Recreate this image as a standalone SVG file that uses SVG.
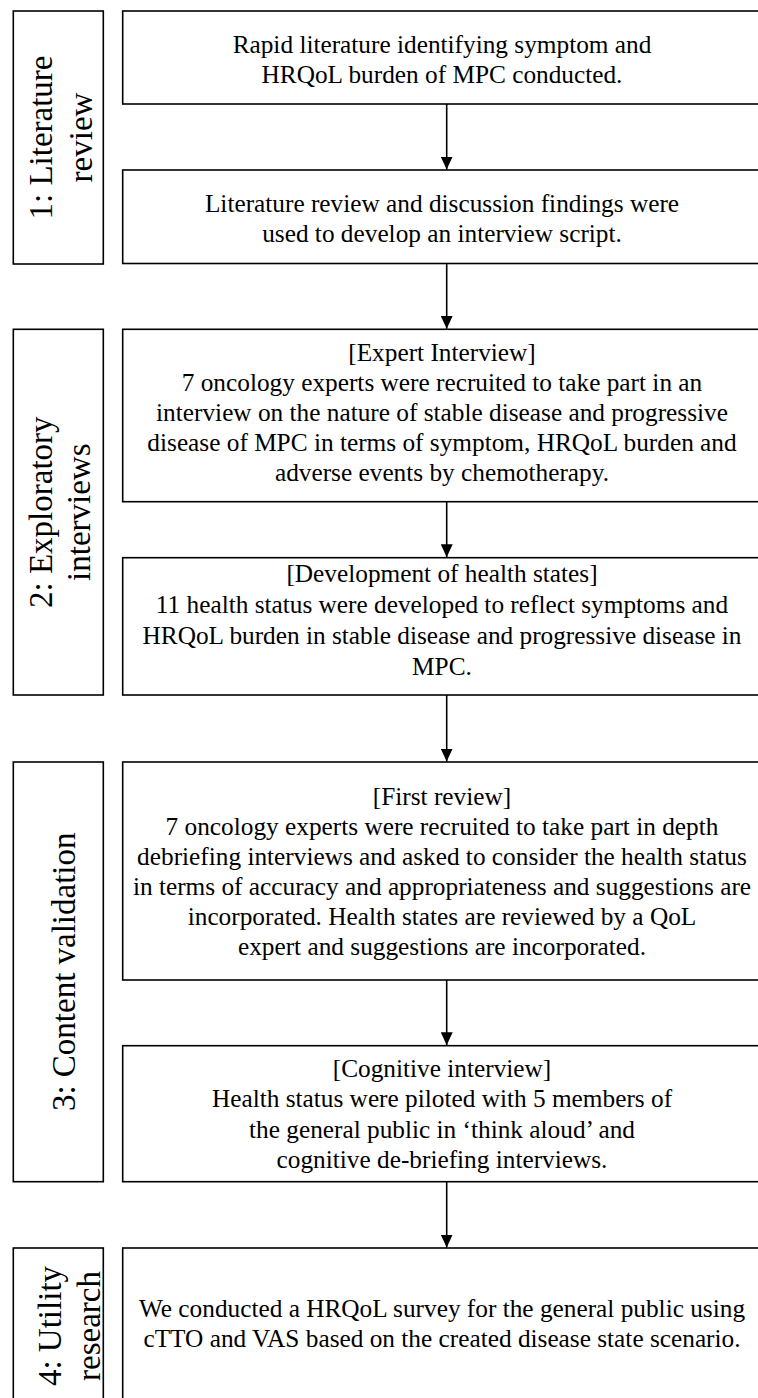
<svg xmlns="http://www.w3.org/2000/svg" width="758" height="1398" viewBox="0 0 758 1398">
<style>
rect.b{fill:#fff;stroke:#000;stroke-width:1.6}
text{font-family:"Liberation Serif","Times New Roman",serif;fill:#000}
.t{font-size:25.3px;text-anchor:middle}
.l{font-size:33px;text-anchor:middle}
.c{stroke:#000;stroke-width:1.6;fill:none}
</style>
<defs>
<marker id="ah" markerWidth="13" markerHeight="12" refX="13" refY="6" orient="auto" markerUnits="userSpaceOnUse" viewBox="0 0 13 12">
<path d="M0,0 L13,6 L0,12 Z" fill="#000"/>
</marker>
</defs>
<rect width="758" height="1398" fill="#fff"/>

<g id="connectors">
<line class="c" x1="446.7" y1="104" x2="446.7" y2="169.5" marker-end="url(#ah)"/>
<line class="c" x1="446.7" y1="263.5" x2="446.7" y2="328.8" marker-end="url(#ah)"/>
<line class="c" x1="446.7" y1="501.7" x2="446.7" y2="557.2" marker-end="url(#ah)"/>
<line class="c" x1="446.7" y1="695" x2="446.7" y2="761.5" marker-end="url(#ah)"/>
<line class="c" x1="446.7" y1="980" x2="446.7" y2="1045.2" marker-end="url(#ah)"/>
<line class="c" x1="446.7" y1="1181.7" x2="446.7" y2="1247.5" marker-end="url(#ah)"/>
</g>

<g id="label1">
<rect class="b" x="13.3" y="11" width="90" height="253"/>
<text class="l" transform="translate(52,137.5) rotate(-90)">1: Literature</text>
<text class="l" transform="translate(92,137.5) rotate(-90)">review</text>
</g>
<g id="label2">
<rect class="b" x="13.3" y="329.3" width="90" height="365.7"/>
<text class="l" transform="translate(52,512.2) rotate(-90)">2: Exploratory</text>
<text class="l" transform="translate(90,512.2) rotate(-90)">interviews</text>
</g>
<g id="label3">
<rect class="b" x="13.3" y="762" width="90" height="419.7"/>
<text class="l" transform="translate(75,971.8) rotate(-90)">3: Content validation</text>
</g>
<g id="label4">
<rect class="b" x="13.3" y="1248" width="90" height="170"/>
<text class="l" transform="translate(61,1326) rotate(-90)">4: Utility</text>
<text class="l" transform="translate(100,1326) rotate(-90)">research</text>
</g>

<g id="box1">
<rect class="b" x="122.7" y="11" width="660" height="93"/>
<text class="t" x="442" y="53.3">Rapid literature identifying symptom and</text>
<text class="t" x="442" y="83.3">HRQoL burden of MPC conducted.</text>
</g>
<g id="box2">
<rect class="b" x="122.7" y="170" width="660" height="93.5"/>
<text class="t" x="442" y="212">Literature review and discussion findings were</text>
<text class="t" x="442" y="242">used to develop an interview script.</text>
</g>
<g id="box3">
<rect class="b" x="122.7" y="329.3" width="660" height="172.4"/>
<text class="t" x="442" y="360.5">[Expert Interview]</text>
<text class="t" x="442" y="390.5">7 oncology experts were recruited to take part in an</text>
<text class="t" x="442" y="420.5">interview on the nature of stable disease and progressive</text>
<text class="t" x="442" y="450.5">disease of MPC in terms of symptom, HRQoL burden and</text>
<text class="t" x="442" y="480.5">adverse events by chemotherapy.</text>
</g>
<g id="box4">
<rect class="b" x="122.7" y="557.7" width="660" height="137.3"/>
<text class="t" x="442" y="582">[Development of health states]</text>
<text class="t" x="442" y="613">11 health status were developed to reflect symptoms and</text>
<text class="t" x="442" y="644">HRQoL burden in stable disease and progressive disease in</text>
<text class="t" x="442" y="675">MPC.</text>
</g>
<g id="box5">
<rect class="b" x="122.7" y="762" width="660" height="218"/>
<text class="t" x="442" y="805">[First review]</text>
<text class="t" x="442" y="835">7 oncology experts were recruited to take part in depth</text>
<text class="t" x="442" y="865">debriefing interviews and asked to consider the health status</text>
<text class="t" x="442" y="895">in terms of accuracy and appropriateness and suggestions are</text>
<text class="t" x="442" y="925">incorporated. Health states are reviewed by a QoL</text>
<text class="t" x="442" y="955">expert and suggestions are incorporated.</text>
</g>
<g id="box6">
<rect class="b" x="122.7" y="1045.7" width="660" height="136"/>
<text class="t" x="442" y="1076.5">[Cognitive interview]</text>
<text class="t" x="442" y="1107">Health status were piloted with 5 members of</text>
<text class="t" x="442" y="1137.5">the general public in ‘think aloud’ and</text>
<text class="t" x="442" y="1168">cognitive de-briefing interviews.</text>
</g>
<g id="box7">
<rect class="b" x="122.7" y="1248" width="660" height="170"/>
<text class="t" x="442" y="1317">We conducted a HRQoL survey for the general public using</text>
<text class="t" x="442" y="1347">cTTO and VAS based on the created disease state scenario.</text>
</g>
</svg>
